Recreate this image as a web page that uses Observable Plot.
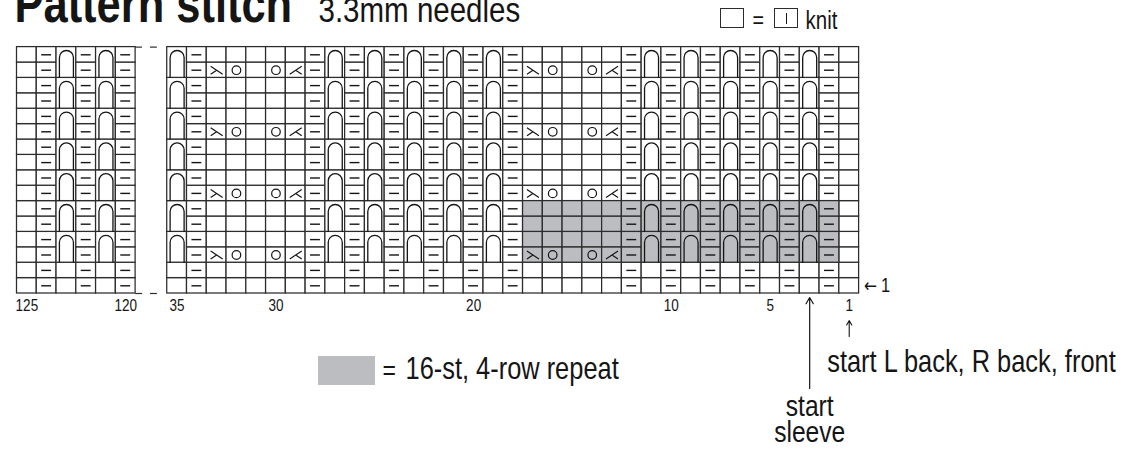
<!DOCTYPE html>
<html>
<head>
<meta charset="utf-8">
<script src="https://cdn.jsdelivr.net/npm/d3@7"></script>
<script src="https://cdn.jsdelivr.net/npm/@observablehq/plot@0.6"></script>
<style>
  body { margin: 0; background: #fff; }
  #wrap { position: relative; width: 1131px; height: 452px; overflow: hidden; background: #fff; }
  #wrap svg { position: absolute; left: 0; top: 0; }
  .box { position: absolute; box-sizing: border-box; }
</style>
</head>
<body>
<div id="wrap"></div>
<script>
// ---------- data ----------
const rowCount = 16;
const leftCols  = [125, 124, 123, 122, 121, 120];
const rightCols = [35, 34, 33, 32, 31, 30, 29, 28, 27, 26, 25, 24, 23, 22, 21, 20, 19, 18,
                   17, 16, 15, 14, 13, 12, 11, 10, 9, 8, 7, 6, 5, 4, 3, 2, 1];
const purlCols  = [124, 122, 120, 34, 28, 26, 24, 22, 20, 18, 12, 10, 8, 6, 4, 2];
const cableCols = [123, 121, 35, 27, 25, 23, 21, 19, 11, 9, 7, 5, 3];
const sskCols   = [33, 17];
const yoCols    = [32, 30, 16, 14];
const k2togCols = [29, 13];
const cableStartRows = [3, 5, 7, 9, 11, 13, 15];
const laceRows  = [3, 7, 11, 15];
const repeatCols = [2, 17];
const repeatRows = [3, 6];
const colLabels = [125, 120, 35, 30, 20, 10, 5, 1];
const rowArrow = "←";
const rowNumber = "1";
const titleText = "Pattern stitch";
const subtitleText = "3.3mm needles";
const keyText = "knit";
const repeatText = "16-st, 4-row repeat";
const sleeveText = "start\nsleeve";
const frontText = "start L back, R back, front";

// ---------- layout helpers ----------
const F = '"Liberation Sans", Arial, sans-serif';
const NARROW = 0.82;
const GRAY = "#bcbdc1";
const LINE = "#2c2c2c";
const INK = "#151515";
const gapCells = 1.6;
const rowPx = 15.4;
const pos = c => c >= 100 ? (125 - c) - leftCols.length - gapCells : 35 - c;

const allCols = leftCols.concat(rightCols);
const allRows = d3.range(1, rowCount + 1);
const cells = [];
for (const c of allCols) {
  if (cableCols.includes(c)) {
    for (const r of allRows.filter(r => r < cableStartRows[0])) cells.push({c, r0: r, r1: r});
    for (const r of cableStartRows) cells.push({c, r0: r, r1: r + 1, cable: true});
  } else {
    for (const r of allRows) cells.push({c, r0: r, r1: r});
  }
}
const inRep = d => d.c >= repeatCols[0] && d.c <= repeatCols[1] && d.r0 >= repeatRows[0] && d.r1 <= repeatRows[1];
const purlCells = purlCols.flatMap(c => allRows.map(r => ({c, r})));
const cableCells = cells.filter(d => d.cable);
const lace = (cols) => cols.flatMap(c => laceRows.map(r => ({c, r})));

// ---------- custom symbols ----------
const cableSym = { draw(ctx) {
  ctx.moveTo(-7, rowPx); ctx.lineTo(-7, -5);
  ctx.arc(0, -5, 7, Math.PI, Math.PI * 2);
  ctx.lineTo(7, rowPx);
}};
const sskSym = { draw(ctx) { ctx.moveTo(-6, -4); ctx.lineTo(6, 4); ctx.moveTo(0, 0); ctx.lineTo(-6, 4); } };
const k2togSym = { draw(ctx) { ctx.moveTo(6, -4); ctx.lineTo(-6, 4); ctx.moveTo(0, 0); ctx.lineTo(6, 4); } };

const txt = (s, o) => Plot.text([s], {text: d => d, frameAnchor: "top-left", lineAnchor: "bottom", textAnchor: "start", fill: INK, fontFamily: F, ...o});

const plot = Plot.plot({
  width: 1131,
  height: 452,
  margin: 0,
  style: {fontFamily: F, background: "transparent", overflow: "visible"},
  x: {type: "linear", domain: [-leftCols.length - gapCells, 35], range: [16.5, 858.6], axis: null},
  y: {type: "linear", domain: [0, rowCount], range: [293, 293 - rowCount * rowPx], axis: null},
  marks: [
    // cells
    Plot.rect(cells.filter(d => !inRep(d)), {x1: d => pos(d.c), x2: d => pos(d.c) + 1, y1: d => d.r0 - 1, y2: d => d.r1, fill: "white", stroke: LINE, strokeWidth: 1.25}),
    Plot.rect(cells.filter(inRep), {x1: d => pos(d.c), x2: d => pos(d.c) + 1, y1: d => d.r0 - 1, y2: d => d.r1, fill: GRAY, stroke: LINE, strokeWidth: 1.25}),
    // break marks between the two chart parts
    Plot.ruleY([0, rowCount], {x1: -gapCells, x2: -gapCells + 0.35, stroke: LINE, strokeWidth: 1.2}),
    Plot.ruleY([0, rowCount], {x1: -0.85, x2: -0.5, stroke: LINE, strokeWidth: 1.2}),
    // purl
    Plot.ruleY(purlCells, {y: d => d.r - 0.5, x1: d => pos(d.c) + 0.25, x2: d => pos(d.c) + 0.75, stroke: INK, strokeWidth: 1.4}),
    // cables
    Plot.dot(cableCells, {x: d => pos(d.c) + 0.5, y: d => d.r0, symbol: cableSym, fill: "none", stroke: INK, strokeWidth: 1.3}),
    // lace
    Plot.dot(lace(yoCols), {x: d => pos(d.c) + 0.5, y: d => d.r - 0.5, r: 4.3, fill: "none", stroke: INK, strokeWidth: 1.2}),
    Plot.dot(lace(sskCols), {x: d => pos(d.c) + 0.5, y: d => d.r - 0.5, symbol: sskSym, fill: "none", stroke: INK, strokeWidth: 1.2}),
    Plot.dot(lace(k2togCols), {x: d => pos(d.c) + 0.5, y: d => d.r - 0.5, symbol: k2togSym, fill: "none", stroke: INK, strokeWidth: 1.2}),
    // column numbers and row number
    Plot.text(colLabels, {x: c => pos(c) + 0.5, y: 0, dy: 17, lineAnchor: "bottom", text: d => String(d), fontSize: 16.5, fill: INK}),
    Plot.text([rowArrow], {x: 35, y: 0.5, dx: 5, textAnchor: "start", text: d => d, fontSize: 19, fontFamily: "DejaVu Sans", fill: INK}),
    Plot.text([rowNumber], {x: 35, y: 0.5, dx: 22, textAnchor: "start", text: d => d, fontSize: 20, fill: INK}),
    // annotations
    Plot.arrow([3], {x1: c => pos(c) + 0.5, x2: c => pos(c) + 0.5, y1: -95 / rowPx, y2: -4 / rowPx, stroke: INK, strokeWidth: 1.2, headLength: 9}),
    Plot.arrow([1], {x1: c => pos(c) + 0.5, x2: c => pos(c) + 0.5, y1: -43 / rowPx, y2: -27 / rowPx, stroke: INK, strokeWidth: 1.1, headLength: 7}),
    Plot.text([sleeveText], {x: pos(3) + 0.5, y: 0, dy: 148, lineAnchor: "bottom", lineHeight: 0.86, text: d => d, fontSize: 30, fill: INK}),
    Plot.text([frontText], {x: pos(1) + 0.5, y: 0, dx: -22, dy: 78, lineAnchor: "bottom", textAnchor: "start", text: d => d, fontSize: 31, fill: INK}),
    // title and legends text
    txt(titleText, {dx: 14, dy: 21, fontSize: 53, fontWeight: "bold"}),
    txt(subtitleText, {dx: 318, dy: 21, fontSize: 36}),
    txt("=", {dx: 752, dy: 27, fontSize: 24}),
    txt(keyText, {dx: 805, dy: 28, fontSize: 25}),
    txt("=", {dx: 382, dy: 379, fontSize: 28}),
    txt(repeatText, {dx: 405, dy: 378, fontSize: 31})
  ]
});

// condensed look: scale every text horizontally about its own anchor
plot.querySelectorAll("text").forEach(t => {
  const tr = t.getAttribute("transform") || "";
  t.setAttribute("transform", (tr + ` scale(${NARROW},1)`).trim());
});

const wrap = document.getElementById("wrap");
wrap.appendChild(plot);

function box(l, t, w, h, style) {
  const d = document.createElement("div");
  d.className = "box";
  Object.assign(d.style, {left: l + "px", top: t + "px", width: w + "px", height: h + "px"}, style);
  wrap.appendChild(d);
  return d;
}
box(720, 8, 24, 20, {border: "1.2px solid " + LINE});
box(774, 8, 24, 20, {border: "1.2px solid " + LINE});
box(785.5, 13, 1.2, 11, {background: INK});
box(318, 356, 57, 29, {background: GRAY});
</script>
</body>
</html>
